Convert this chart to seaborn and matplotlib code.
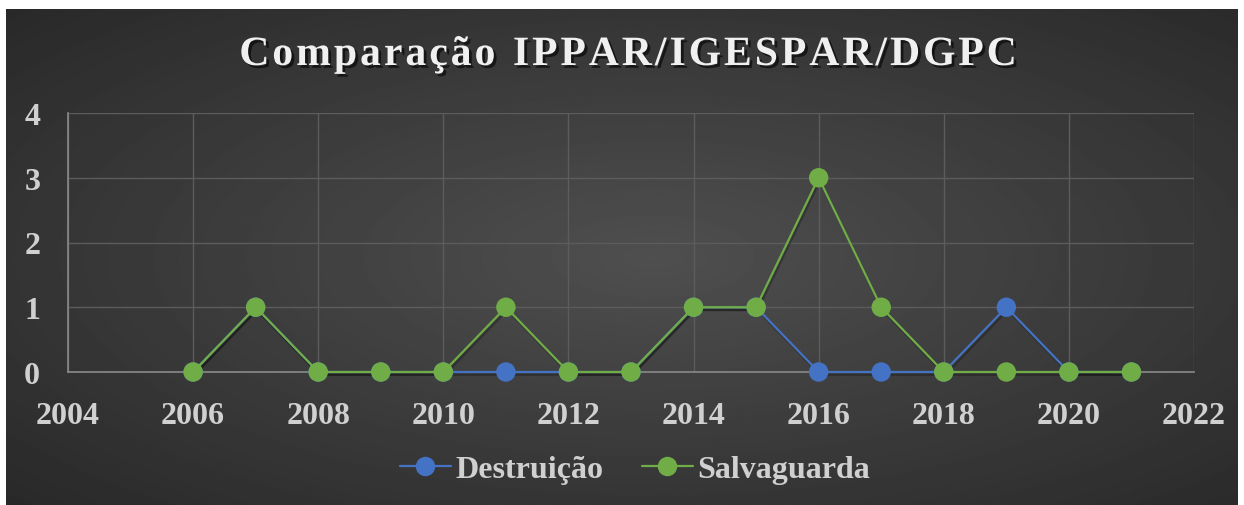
import numpy as np
import pandas as pd
import matplotlib
matplotlib.use("Agg")
import matplotlib.pyplot as plt
import matplotlib.patheffects as pe
import seaborn as sns

years = [2006, 2007, 2008, 2009, 2010, 2011, 2012, 2013, 2014, 2015, 2016, 2017, 2018, 2019, 2020, 2021]
destruicao = [0, 1, 0, 0, 0, 0, 0, 0, 1, 1, 0, 0, 0, 1, 0, 0]
salvaguarda = [0, 1, 0, 0, 0, 1, 0, 0, 1, 1, 3, 1, 0, 0, 0, 0]
series_names = ["Destruição", "Salvaguarda"]
colors = ["#4472C4", "#70AD47"]
title = "Comparação IPPAR/IGESPAR/DGPC"

df = pd.DataFrame({
    "Ano": years * 2,
    "Valor": destruicao + salvaguarda,
    "Série": [series_names[0]] * len(years) + [series_names[1]] * len(years),
})

sns.set_style("dark")
plt.rcParams["font.family"] = ["Liberation Serif", "DejaVu Serif"]
plt.rcParams["font.weight"] = "bold"

W, H = 1244, 506
fig = plt.figure(figsize=(W / 100, H / 100), dpi=100)
fig.patch.set_facecolor("white")

# dark radial background
bg = fig.add_axes([6 / W, 0, 1 - 12 / W, 1 - 10 / H])
yy, xx = np.mgrid[-1:1:300j, -1:1:700j]
r = np.sqrt(((xx - 0.05) * 0.9) ** 2 + (yy * 0.9) ** 2)
bg.imshow(0.31 - 0.16 * np.clip(r, 0, 1.4) / 1.4, cmap="gray", vmin=0, vmax=1,
          aspect="auto", extent=[0, 1, 0, 1])
bg.set_axis_off()

ax = fig.add_axes([68 / W, 1 - 373 / H, (1194 - 68) / W, (373 - 114) / H])
ax.patch.set_alpha(0)

sns.lineplot(data=df, x="Ano", y="Valor", hue="Série", palette=colors,
             marker="o", markersize=14, linewidth=1.6, markeredgewidth=0,
             ax=ax, legend=False, zorder=3)
for line in ax.get_lines():
    line.set_clip_on(False)
    line.set_path_effects([pe.SimpleLineShadow(offset=(1, -2), alpha=0.25, shadow_color="black"),
                           pe.Normal()])

ax.set_xlim(2004, 2022)
ax.set_ylim(0, 4)
ax.set_xticks(range(2004, 2023, 2))
ax.set_yticks(range(0, 5))
ax.grid(True, color="#5c5c5c", linewidth=1)
for s in ["top", "right"]:
    ax.spines[s].set_visible(False)
for s in ["left", "bottom"]:
    ax.spines[s].set_visible(True)
    ax.spines[s].set_color("#8a8a8a")
    ax.spines[s].set_linewidth(1.2)
    ax.spines[s].set_zorder(1)
ax.tick_params(axis="both", colors="#d0d0d0", labelsize=23, length=0)
ax.tick_params(axis="x", pad=21)
ax.tick_params(axis="y", pad=20)
for lab in ax.get_xticklabels() + ax.get_yticklabels():
    lab.set_fontweight("bold")
ax.set_xlabel("")
ax.set_ylabel("")

# title with extra letter spacing
renderer = fig.canvas.get_renderer()
tracking = 3.0
tprops = dict(fontsize=30, fontweight="bold", color="#f0f0f0", va="center", ha="left",
              path_effects=[pe.withSimplePatchShadow(offset=(2, -2), alpha=0.6, shadow_rgbFace="black")])
widths = []
for ch in title:
    t = fig.text(0, 0, ch if ch != " " else "a", **tprops)
    bb = t.get_window_extent(renderer)
    widths.append(bb.width if ch != " " else bb.width * 0.55)
    t.remove()
total = sum(widths) + tracking * (len(title) - 1)
x = (W - total) / 2 + 6
for ch, w in zip(title, widths):
    if ch != " ":
        fig.text(x / W, 1 - 56 / H, ch, **tprops)
    x += w + tracking

handles = [plt.Line2D([], [], color=c, marker="o", markersize=14, linewidth=1.6,
                      markeredgewidth=0) for c in colors]
fig.legend(handles, series_names, loc="center", bbox_to_anchor=(0.5 + 13 / W, 1 - 470 / H),
           ncol=2, frameon=False, labelcolor="#d0d0d0",
           handlelength=1.6, columnspacing=1.2, handletextpad=0.15,
           prop={"weight": "bold", "size": 23})

fig.savefig("out.png", dpi=100, facecolor=fig.get_facecolor())
